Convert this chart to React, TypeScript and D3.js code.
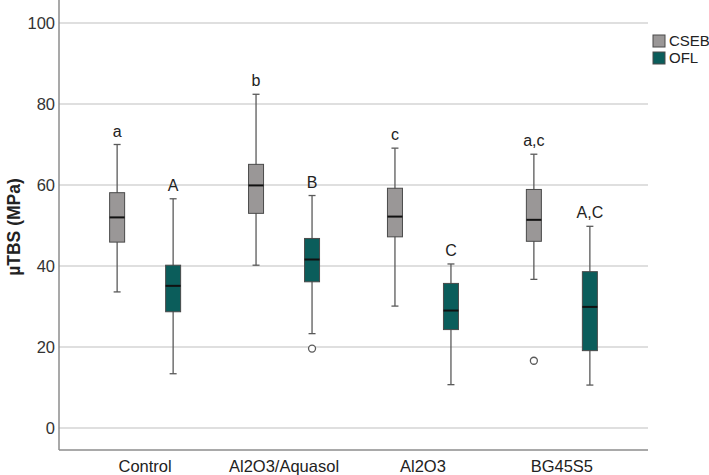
import { useEffect, useRef } from "react";
import * as d3 from "d3";

// Bond strength per treatment, two adhesive groups
const categories = ["Control", "Al2O3/Aquasol", "Al2O3", "BG45S5"];
const groups = ["CSEB", "OFL"];

const csebMin = [33.6, 40.2, 30.1, 36.7];
const csebQ1 = [45.9, 53.0, 47.2, 46.1];
const csebMedian = [52.0, 59.9, 52.2, 51.4];
const csebQ3 = [58.1, 65.1, 59.2, 58.9];
const csebMax = [70.0, 82.4, 69.1, 67.6];
const csebOutliers = [[], [], [], [16.6]];
const csebLetters = ["a", "b", "c", "a,c"];

const oflMin = [13.4, 23.3, 10.7, 10.6];
const oflQ1 = [28.7, 36.1, 24.3, 19.1];
const oflMedian = [35.1, 41.6, 29.0, 29.9];
const oflQ3 = [40.2, 46.8, 35.7, 38.6];
const oflMax = [56.6, 57.4, 40.5, 49.8];
const oflOutliers = [[], [19.6], [], []];
const oflLetters = ["A", "B", "C", "A,C"];

const yTicks = [0, 20, 40, 60, 80, 100];

const FILLS: Record<string, string> = { CSEB: "#9a9797", OFL: "#0b5d5b" };
const FONT = "'Liberation Sans', Arial, sans-serif";

export default function App() {
  const svgRef = useRef<SVGSVGElement>(null);
  const width = 709;
  const height = 475;

  useEffect(() => {
    const svg = d3.select(svgRef.current);
    svg.selectAll("*").remove();

    const left = 59;
    const right = 648;

    const y = d3.scaleLinear().domain([0, 100]).range([428, 23]);
    const x = d3.scalePoint<string>().domain(categories).range([left, right]).padding(0.62);
    const xg = d3.scaleBand<string>().domain(groups).range([-56, 56]);
    const boxW = 15;

    // grid
    svg
      .append("g")
      .selectAll("line")
      .data(yTicks)
      .enter()
      .append("line")
      .attr("x1", left)
      .attr("x2", right)
      .attr("y1", (d) => y(d))
      .attr("y2", (d) => y(d))
      .attr("stroke", "#d4d4d4")
      .attr("stroke-width", 1.5);

    // axes
    const bottom = y(-5.45);
    svg
      .append("line")
      .attr("x1", left)
      .attr("x2", left)
      .attr("y1", 0)
      .attr("y2", bottom)
      .attr("stroke", "#8c8c8c")
      .attr("stroke-width", 1.5);
    svg
      .append("line")
      .attr("x1", left)
      .attr("x2", right)
      .attr("y1", bottom)
      .attr("y2", bottom)
      .attr("stroke", "#8c8c8c")
      .attr("stroke-width", 1.5);

    svg
      .append("g")
      .selectAll("text")
      .data(yTicks)
      .enter()
      .append("text")
      .attr("x", 55)
      .attr("y", (d) => y(d))
      .attr("dy", "0.36em")
      .attr("text-anchor", "end")
      .attr("font-family", FONT)
      .attr("font-size", "16.5px")
      .attr("fill", "#333")
      .text((d) => d);

    svg
      .append("g")
      .selectAll("text")
      .data(categories)
      .enter()
      .append("text")
      .attr("x", (d) => x(d)!)
      .attr("y", 472)
      .attr("text-anchor", "middle")
      .attr("font-family", FONT)
      .attr("font-size", "16.5px")
      .attr("fill", "#222")
      .text((d) => d);

    svg
      .append("text")
      .attr("transform", `translate(20,227) rotate(-90)`)
      .attr("text-anchor", "middle")
      .attr("font-family", FONT)
      .attr("font-size", "17.5px")
      .attr("font-weight", "bold")
      .attr("fill", "#222")
      .text("µTBS (MPa)");

    const series = [
      { key: "CSEB", min: csebMin, q1: csebQ1, med: csebMedian, q3: csebQ3, max: csebMax, out: csebOutliers, letters: csebLetters },
      { key: "OFL", min: oflMin, q1: oflQ1, med: oflMedian, q3: oflQ3, max: oflMax, out: oflOutliers, letters: oflLetters },
    ];

    series.forEach((s) => {
      categories.forEach((c, i) => {
        const cx = x(c)! + xg(s.key)! + xg.bandwidth() / 2;
        const g = svg.append("g");

        g.append("line")
          .attr("x1", cx)
          .attr("x2", cx)
          .attr("y1", y(s.max[i]))
          .attr("y2", y(s.min[i]))
          .attr("stroke", "#5a5a5a")
          .attr("stroke-width", 1.3);
        [s.max[i], s.min[i]].forEach((v) =>
          g
            .append("line")
            .attr("x1", cx - 3.5)
            .attr("x2", cx + 3.5)
            .attr("y1", y(v))
            .attr("y2", y(v))
            .attr("stroke", "#5a5a5a")
            .attr("stroke-width", 1.3)
        );

        g.append("rect")
          .attr("x", cx - boxW / 2)
          .attr("y", y(s.q3[i]))
          .attr("width", boxW)
          .attr("height", y(s.q1[i]) - y(s.q3[i]))
          .attr("fill", FILLS[s.key])
          .attr("stroke", "#4a4a4a")
          .attr("stroke-width", 1);

        g.append("line")
          .attr("x1", cx - boxW / 2)
          .attr("x2", cx + boxW / 2)
          .attr("y1", y(s.med[i]))
          .attr("y2", y(s.med[i]))
          .attr("stroke", "#111")
          .attr("stroke-width", 2);

        s.out[i].forEach((v: number) =>
          g
            .append("circle")
            .attr("cx", cx)
            .attr("cy", y(v))
            .attr("r", 3.5)
            .attr("fill", "#fff")
            .attr("stroke", "#5a5a5a")
            .attr("stroke-width", 1.3)
        );

        g.append("text")
          .attr("x", cx)
          .attr("y", y(s.max[i]) - 8)
          .attr("text-anchor", "middle")
          .attr("font-family", FONT)
          .attr("font-size", "16px")
          .attr("fill", "#222")
          .text(s.letters[i]);
      });
    });

    // legend
    const legend = svg.append("g").attr("transform", "translate(653,35)");
    groups.forEach((k, i) => {
      legend
        .append("rect")
        .attr("x", 0)
        .attr("y", i * 17)
        .attr("width", 12)
        .attr("height", 12)
        .attr("fill", FILLS[k])
        .attr("stroke", "#4a4a4a")
        .attr("stroke-width", 1);
      legend
        .append("text")
        .attr("x", 16)
        .attr("y", i * 17 + 6)
        .attr("dy", "0.36em")
        .attr("font-family", FONT)
        .attr("font-size", "15px")
        .attr("fill", "#222")
        .text(k);
    });
  }, []);

  return (
    <div style={{ position: "absolute", left: 0, top: 0 }}>
      <svg ref={svgRef} width={width} height={height} style={{ display: "block", background: "#fff" }} />
    </div>
  );
}
